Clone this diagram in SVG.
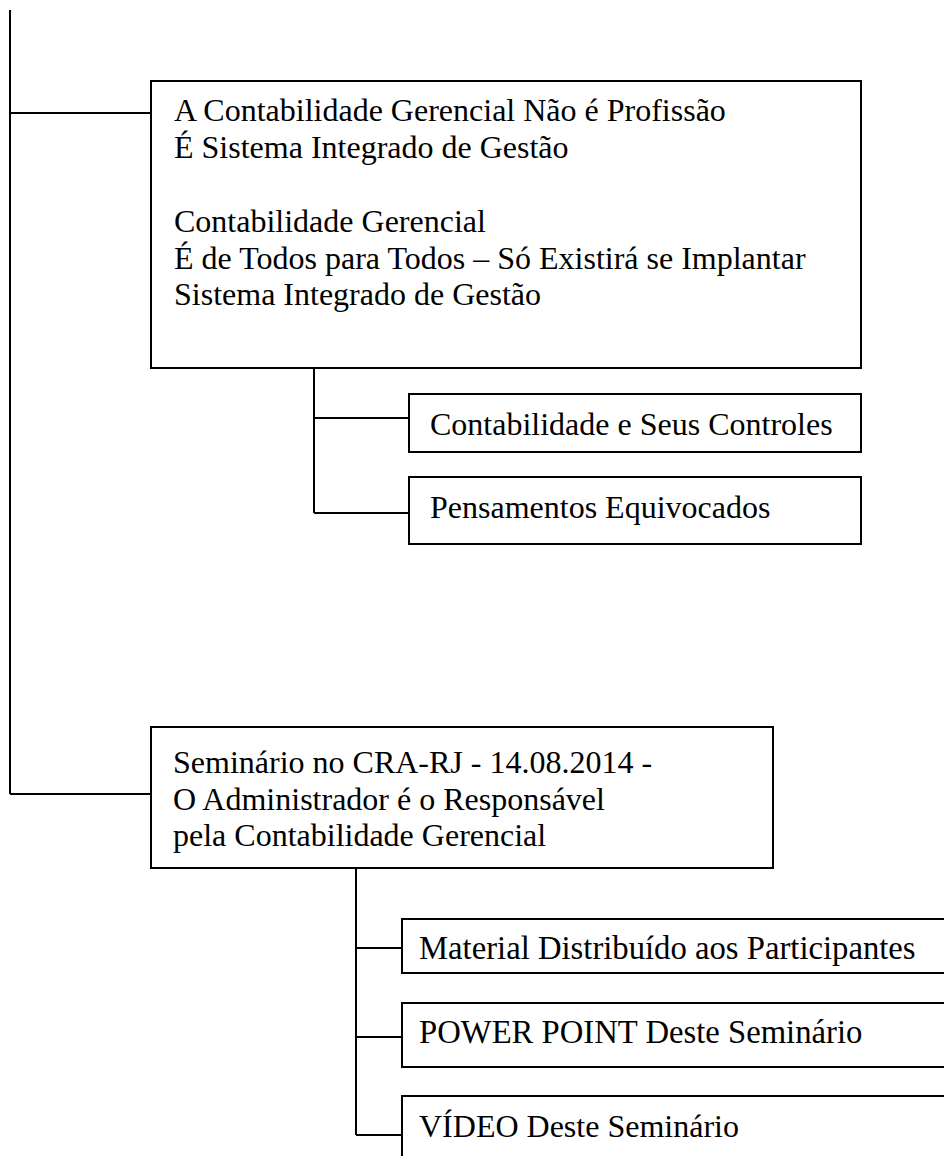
<svg xmlns="http://www.w3.org/2000/svg" width="944" height="1156" viewBox="0 0 944 1156">
<style>
.box{fill:#fff;stroke:#000;stroke-width:2}
.ln{stroke:#000;stroke-width:2;fill:none}
text{font-family:"Liberation Serif","Times New Roman",serif;font-size:32px;fill:#000}
.lg{font-size:32.7px}
</style>
<rect width="944" height="1156" fill="#fff"/>
<g id="connectors">
<path class="ln" d="M10,10 V794 M10,113 H151 M10,794 H151"/>
<path class="ln" d="M314,368 V513 M314,418 H409 M314,513 H409"/>
<path class="ln" d="M356,868 V1135 M356,948 H402 M356,1037 H402 M356,1135 H402"/>
</g>
<g id="node-gerencial">
<rect class="box" x="151" y="81" width="710" height="287"/>
<text x="174" y="121">A Contabilidade Gerencial Não é Profissão</text>
<text x="174" y="158">É Sistema Integrado de Gestão</text>
<text x="174" y="232">Contabilidade Gerencial</text>
<text x="174" y="269">É de Todos para Todos – Só Existirá se Implantar</text>
<text x="174" y="305">Sistema Integrado de Gestão</text>
</g>
<g id="node-controles">
<rect class="box" x="409" y="394" width="452" height="58"/>
<text x="430" y="435">Contabilidade e Seus Controles</text>
</g>
<g id="node-pensamentos">
<rect class="box" x="409" y="477" width="452" height="67"/>
<text x="430" y="518">Pensamentos Equivocados</text>
</g>
<g id="node-seminario">
<rect class="box" x="151" y="727" width="622" height="141"/>
<text x="173" y="773">Seminário no CRA-RJ - 14.08.2014 -</text>
<text x="173" y="810">O Administrador é o Responsável</text>
<text x="173" y="846">pela Contabilidade Gerencial</text>
</g>
<g id="node-material">
<rect class="box" x="402" y="919" width="560" height="54"/>
<text class="lg" x="419" y="959">Material Distribuído aos Participantes</text>
</g>
<g id="node-powerpoint">
<rect class="box" x="402" y="1003" width="560" height="64"/>
<text class="lg" x="419" y="1043">POWER POINT Deste Seminário</text>
</g>
<g id="node-video">
<rect class="box" x="402" y="1096" width="560" height="80"/>
<text x="419" y="1137">VÍDEO Deste Seminário</text>
</g>
</svg>
